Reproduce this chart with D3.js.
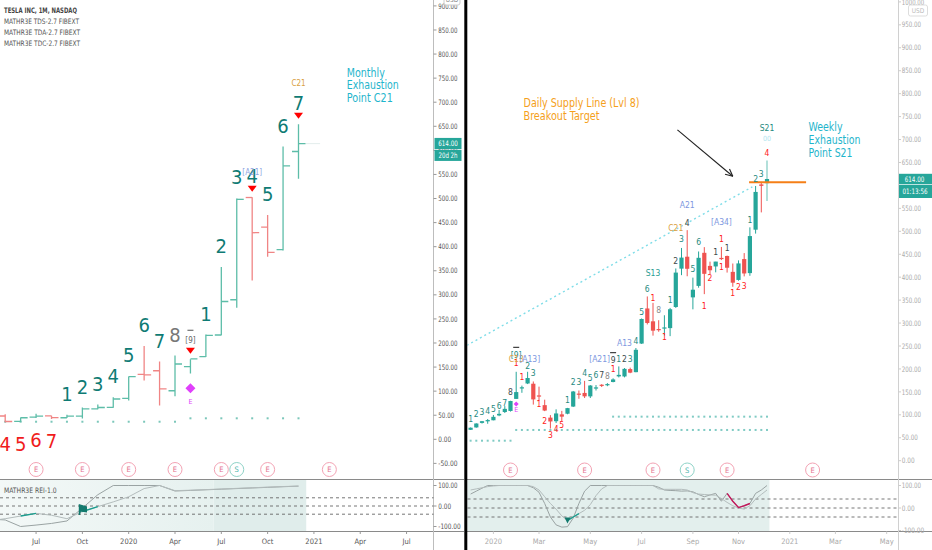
<!DOCTYPE html>
<html><head><meta charset="utf-8">
<script src="https://cdn.jsdelivr.net/npm/d3@7"></script>
<style>html,body{margin:0;padding:0;background:#fff;overflow:hidden}</style>
</head><body>
<svg id="chart" width="932" height="550"></svg>
<script>
// ================= DATA =================
// Monthly TSLA bars (left panel)
const monthlyPeriods = ["2019-04","2019-05","2019-06","2019-07","2019-08","2019-09","2019-10","2019-11","2019-12","2020-01","2020-02","2020-03","2020-04","2020-05","2020-06","2020-07","2020-08","2020-09","2020-10","2020-11","2020-12"];
const monthlyOpen  = [56.6,48.4,37.2,46.1,48.6,44.8,48.3,63.3,66.2,84.9,134.7,142.3,100.8,151.0,171.6,216.6,289.8,502.1,440.8,394.0,597.6];
const monthlyHigh  = [58.9,52.1,45.4,53.1,48.8,50.9,66.0,72.2,87.1,130.6,193.8,161.4,174.0,166.2,217.5,358.0,500.1,502.5,465.9,607.8,654.3];
const monthlyLow   = [46.9,35.4,35.8,44.2,42.3,44.2,43.0,62.2,65.5,80.4,122.3,70.1,89.3,136.6,170.8,216.2,273.0,329.9,379.1,392.3,541.2];
const monthlyClose = [47.7,37.0,44.7,48.3,45.1,48.2,63.0,66.0,83.7,130.1,133.6,104.8,156.4,167.0,216.0,286.2,498.3,429.0,388.0,567.6,614.0];
const monthlyUpCount   = [null,null,null,null,null,"1","2","3","4","5","6","7","8","9","1","2","3","4","5","6","7"];
const monthlyDownCount = [null,"4","5","6","7",null,null,null,null,null,null,null,null,null,null,null,null,null,null,null,null];
const monthlyDotLevel  = [null,36.5,36.5,36.5,36.5,36.5,36.5,36.5,36.5,36.5,36.5,36.5,36.5,43.6,43.6,43.6,43.6,43.6,43.6,43.6,43.6];
const monthlyReiA = [-64,-68,-100,-93,-85,-73,-10,55,100,100,100,100,73,76,79,82,85,88,91,94,97];
const monthlyReiB = [-72,-62,-49,-36,-45,-62,-27,-3,20,45,85,100,75,77,80,83,86,89,92,95,97];
const monthlySellArrow = ["2020-05","2020-09","2020-12"];
const leftTicksMonths = ["2019-07","2019-10","2020-01","2020-04","2020-07","2020-10","2021-01","2021-04","2021-07"];
const leftTickLabels  = ["Jul","Oct","2020","Apr","Jul","Oct","2021","Apr","Jul"];
const leftEventMonths = ["2019-07","2019-10","2020-01","2020-04","2020-07","2020-08","2020-10","2021-02"];
const leftEventKinds  = ["E","E","E","E","E","S","E","E"];

// Weekly TSLA candles (right panel)
const weeklyDates = ["2019-12-09","2019-12-16","2019-12-23","2019-12-30","2020-01-06","2020-01-13","2020-01-20","2020-01-27","2020-02-03","2020-02-10","2020-02-17","2020-02-24","2020-03-02","2020-03-09","2020-03-16","2020-03-23","2020-03-30","2020-04-06","2020-04-13","2020-04-20","2020-04-27","2020-05-04","2020-05-11","2020-05-18","2020-05-25","2020-06-01","2020-06-08","2020-06-15","2020-06-22","2020-06-29","2020-07-06","2020-07-13","2020-07-20","2020-07-27","2020-08-03","2020-08-10","2020-08-17","2020-08-24","2020-08-31","2020-09-07","2020-09-14","2020-09-21","2020-09-28","2020-10-05","2020-10-12","2020-10-19","2020-10-26","2020-11-02","2020-11-09","2020-11-16","2020-11-23","2020-11-30","2020-12-07"];
const weeklyOpen  = [67.3,72.5,82.4,85.8,88.1,98.7,106.1,108.4,134.7,160.0,168.3,167.8,142.3,121.1,93.9,86.1,101.0,102.4,118.0,146.3,147.7,140.2,159.2,165.6,166.6,171.6,183.8,183.6,199.7,193.0,255.3,331.8,303.8,287.0,289.8,289.0,335.0,418.6,444.6,356.0,381.0,453.1,424.6,423.4,442.0,446.2,411.6,394.0,439.5,408.9,503.5,602.2,604.9];
const weeklyHigh  = [72.4,81.4,86.4,90.8,99.7,110.6,119.0,130.6,193.8,163.6,193.8,172.7,161.4,133.0,99.4,112.0,108.6,115.1,152.0,153.0,174.0,164.8,164.8,166.8,169.1,179.6,205.5,201.9,202.8,245.6,310.0,358.0,344.0,306.2,317.0,333.0,419.0,463.7,502.5,399.0,456.0,465.5,433.9,433.6,465.9,447.0,429.8,436.6,452.5,508.6,598.8,607.8,654.3];
const weeklyLow   = [67.0,72.0,81.0,80.5,88.0,97.0,104.0,107.1,134.7,148.0,167.0,122.3,131.0,108.0,70.1,82.1,85.1,101.2,117.0,135.0,136.6,136.6,153.0,160.6,162.4,170.8,181.5,181.6,190.7,192.8,254.5,297.0,272.6,281.0,273.0,271.5,333.0,404.4,402.0,329.9,377.0,363.0,406.5,410.6,437.3,410.0,379.1,392.3,401.7,403.0,495.0,541.2,566.0];
const weeklyClose = [71.9,81.1,86.1,88.6,95.6,102.1,113.0,130.1,149.6,160.0,180.2,133.6,140.7,109.3,85.5,103.0,96.0,114.6,150.8,145.0,140.3,163.9,159.8,163.4,167.0,177.1,187.1,200.2,191.9,241.7,308.9,300.2,283.4,286.2,290.5,330.1,410.0,442.7,418.3,372.7,442.2,407.3,415.1,434.0,439.7,420.6,388.0,430.0,408.1,489.6,585.8,599.0,614.0];
const weeklyReiA = [62,75,88,100,100,100,100,100,100,100,100,90,70,20,-40,-75,-85,-83,-45,20,75,100,100,100,100,100,100,100,100,100,100,100,100,92,80,78,77,75,76,72,60,50,58,65,30,65,30,2,10,20,65,80,100];
const weeklyReiB = [80,85,90,95,98,100,100,100,100,100,100,95,80,50,20,-5,-35,-56,-40,-25,-10,15,55,85,100,100,100,100,100,100,100,100,100,85,83,83,83,83,80,68,62,60,58,57,42,25,10,0,-5,10,40,60,80];
// TD count labels: week index, text, price level, kind
const weekLabelIdx   = [0,1,2,3,4,5,6,7,8,8,9,10,11,12,13,14,15,16,17,18,19,20,21,22,23,24,25,25,26,27,28,29,30,31,32,33,34,35,36,37,38,39,40,41,42,43,44,44,45,46,47,48,49,50,51,52,52,52];
const weekLabelText  = ["1","2","3","4","5","6","7","8","[9]","1","1","2","3","1","2","3","4","5","1","2","3","4","5","6","7","8","9","1","1","2","3","4","5","6","1","8","1","1","2","3","4","5","6","1","2","1","1","1","1","1","2","3","1","2","3","4","00","S21"];
const weekLabelPrice = [90.2,102.4,105.5,107.7,113.3,119.2,126.4,149.7,230.4,212.3,183,206.4,191.8,123.6,87.2,56,68.4,77.8,132.3,170.9,170.9,190.5,179.6,186.8,186.8,185.3,219.5,199.2,221,221,221,260.9,324.8,373.6,354,328.5,269,350.3,435.3,483.9,518.7,417.2,476,337.2,397.6,454.2,482.6,422.8,464.3,364.9,378,381.4,524.6,614,624.9,670,702.7,725.8];
const weekLabelKind  = ["up","up","up","up","up","up","up","dark","up","down","down","up","up","down","down","down","down","down","up","up","up","up","up","up","dark","gray","dark","down","up","dark","up","up","up","up","down","gray","down","up","dark","up","dark","up","up","down","down","dark","down","down","dark","down","down","down","up","up","up","down","faint","up"];
// Fib tags: week index, text, price, kind, horizontal anchor
const weekTagIdx    = [8,8,25,27,32,36,38,44];
const weekTagText   = ["C13","[A13]","[A21]","A13","S13","C21","A21","[A34]"];
const weekTagPrice  = [221.7,221.7,221,257.2,408.5,506.5,557.3,520.9];
const weekTagKind   = ["orange","blue","blue","blue","teal","orange","blue","blue"];
const weekTagAnchor = ["startL","startR","endL","middle","middle","middle","middle","middle"];
const weekDotFrom  = [0,8,25];
const weekDotTo    = [7,52,52];
const weekDotLevel = [43.6,67,96];
const rightTickDates  = ["2020-01-06","2020-03-02","2020-05-04","2020-07-06","2020-09-07","2020-11-02","2021-01-04","2021-03-01","2021-05-03"];
const rightTickLabels = ["2020","Mar","May","Jul","Sep","Nov","2021","Mar","May"];
const rightEventDates = ["2020-01-27","2020-04-27","2020-07-20","2020-08-31","2020-10-19","2021-02-01"];
const rightEventKinds = ["E","E","E","S","E","E"];
// Drawn lines (date, price)
const trendDates  = ["2019-11-29","2020-11-19"];
const trendPrices = [246,597];
const supplyDates  = ["2020-11-15","2021-01-24"];
const supplyPrices = [607,607];
const arrowDates  = ["2020-08-19","2020-10-26"];
const arrowPrices = [721,620];
const lastPrice = 614;

// ================= SETUP =================
const parseDay = d3.timeParse("%Y-%m-%d");
const mIdx = s => { const p = s.split("-").map(Number); return (p[0]-2019)*12 + (p[1]-1); };
const svg = d3.select("#chart");
const FONT = '"Liberation Sans Narrow","DejaVu Sans Condensed","Liberation Sans","Noto Sans",sans-serif';
const TEAL = "#26a69a", RED = "#ef5350";
const COL = {up:"#1f8a80", dark:"#3d4a4a", down:"#ff2020", gray:"#8a8a8a", blue:"#7d97e0", orange:"#d9a040", teal:"#2a9d93", faint:"#b2e6ef"};

const xL  = d3.scaleLinear().domain([4,23]).range([5.2,298.5]);
const yL  = d3.scaleLinear().domain([0,900]).range([439.3,5.9]);
const yLi = d3.scaleLinear().domain([-100,100]).range([526.5,485.5]);
const xR  = d3.scaleTime().domain([parseDay("2019-12-09"), parseDay("2020-12-07")]).range([470.6,767]);
const yR  = d3.scaleLinear().domain([0,500]).range([460.7,231.3]);
const yRi = d3.scaleLinear().domain([-100,100]).range([530.5,485.5]);
const wx = i => xR(parseDay(weeklyDates[i]));

function txt(g,x,yc,s,size,color,anchor,len,weight){
  const t = g.append("text").attr("x",x).attr("y",yc+size*0.35).text(s)
    .attr("font-size",size).attr("fill",color).attr("text-anchor",anchor||"start")
    .attr("font-family",FONT);
  if(len) t.attr("textLength",len).attr("lengthAdjust","spacingAndGlyphs");
  if(weight) t.attr("font-weight",weight);
  return t;
}

const defs = svg.append("defs");
defs.append("clipPath").attr("id","clipL").append("rect").attr("x",0).attr("y",0).attr("width",433.5).attr("height",479.5);
defs.append("clipPath").attr("id","clipR").append("rect").attr("x",467.5).attr("y",0).attr("width",431).attr("height",479.5);
defs.append("clipPath").attr("id","clipLi").append("rect").attr("x",0).attr("y",480).attr("width",433.5).attr("height",51);
defs.append("clipPath").attr("id","clipRi").append("rect").attr("x",467.5).attr("y",480).attr("width",431).attr("height",51);
const grad = defs.append("linearGradient").attr("id","gL").attr("x1","0").attr("x2","1").attr("y1","0").attr("y2","0");
grad.append("stop").attr("offset","0").attr("stop-color","#f3f8f7");
grad.append("stop").attr("offset","1").attr("stop-color","#e6f1ef");

svg.append("rect").attr("width",932).attr("height",550).attr("fill","#fff");

// ---------- indicator pane shading ----------
svg.append("rect").attr("x",0).attr("y",480).attr("width",xL(17.5)).attr("height",51).attr("fill","url(#gL)");
svg.append("rect").attr("x",xL(17.5)).attr("y",480).attr("width",xL(23.5)-xL(17.5)).attr("height",51).attr("fill","#e0edeb");
svg.append("rect").attr("x",467.5).attr("y",480).attr("width",xR(parseDay("2020-12-10"))-467.5).attr("height",51).attr("fill","#e3efed");

// ---------- separators ----------
const sep = svg.append("g").attr("stroke","#8a8a8a").attr("stroke-width",1);
sep.append("line").attr("x1",0).attr("x2",464).attr("y1",479.5).attr("y2",479.5);
sep.append("line").attr("x1",0).attr("x2",464).attr("y1",531.5).attr("y2",531.5);
sep.append("line").attr("x1",467).attr("x2",932).attr("y1",479.5).attr("y2",479.5);
sep.append("line").attr("x1",467).attr("x2",932).attr("y1",531.5).attr("y2",531.5);
svg.append("line").attr("x1",433.5).attr("x2",433.5).attr("y1",0).attr("y2",550).attr("stroke","#bdbdbd");
svg.append("line").attr("x1",898.5).attr("x2",898.5).attr("y1",0).attr("y2",550).attr("stroke","#d0d0d0");

// ---------- dashed levels in indicator panes ----------
[40,0,-40].forEach(v=>{
  svg.append("line").attr("x1",0).attr("x2",433.5).attr("y1",yLi(v)).attr("y2",yLi(v))
    .attr("stroke","#666").attr("stroke-dasharray","3,3").attr("stroke-width",0.9);
  svg.append("line").attr("x1",467.5).attr("x2",898.5).attr("y1",yRi(v)).attr("y2",yRi(v))
    .attr("stroke","#666").attr("stroke-dasharray","3,3").attr("stroke-width",0.9);
});

// ================= LEFT PANEL =================
const gL = svg.append("g").attr("clip-path","url(#clipL)");
monthlyPeriods.forEach((p,i)=>{
  if(monthlyDotLevel[i]==null) return;
  gL.append("rect").attr("x",xL(mIdx(p))-1).attr("y",yL(monthlyDotLevel[i])-1).attr("width",2).attr("height",2).attr("fill","#7cc7ba");
});
// faint last-price line
gL.append("line").attr("x1",xL(23)+7).attr("x2",xL(24.4)).attr("y1",yL(lastPrice)).attr("y2",yL(lastPrice)).attr("stroke","#e3eeec").attr("stroke-width",1);
// OHLC bars
monthlyPeriods.forEach((p,i)=>{
  const x = xL(mIdx(p)), up = monthlyClose[i] >= monthlyOpen[i];
  const c = up ? "#5dbda8" : "#f08585";
  gL.append("line").attr("x1",x).attr("x2",x).attr("y1",yL(monthlyHigh[i])).attr("y2",yL(monthlyLow[i])).attr("stroke",c).attr("stroke-width",1.3);
  gL.append("line").attr("x1",x-6.5).attr("x2",x).attr("y1",yL(monthlyOpen[i])).attr("y2",yL(monthlyOpen[i])).attr("stroke",c).attr("stroke-width",1.3);
  gL.append("line").attr("x1",x).attr("x2",x+7).attr("y1",yL(monthlyClose[i])).attr("y2",yL(monthlyClose[i])).attr("stroke",c).attr("stroke-width",1.3);
});
monthlySellArrow.forEach(p=>{
  const i = monthlyPeriods.indexOf(p), x = xL(mIdx(p)), y = yL(monthlyHigh[i]) - 8.5;
  gL.append("path").attr("d",`M${x-4.5},${y-3}L${x+4.5},${y-3}L${x},${y+3}Z`).attr("fill","#f00");
});
monthlyPeriods.forEach((p,i)=>{
  const x = xL(mIdx(p));
  const u = monthlyUpCount[i];
  if(u){
    if(u==="9"){
      txt(gL,x,yL(monthlyHigh[i])-19,"[9]",8,"#666","middle");
      gL.append("line").attr("x1",x-3).attr("x2",x+3).attr("y1",yL(monthlyHigh[i])-29).attr("y2",yL(monthlyHigh[i])-29).attr("stroke","#555").attr("stroke-width",1.2);
    } else {
      txt(gL,x,yL(monthlyHigh[i])-21,u,20,u==="8"?"#777":"#0f7b74","middle");
    }
  }
  const d = monthlyDownCount[i];
  if(d) txt(gL,x,yL(monthlyLow[i])+22,d,20,"#f01c1c","middle");
});
txt(gL,xL(mIdx("2020-09")),yL(502.5)-25,"[A21]",8,"#8ea4e2","middle");
txt(gL,xL(mIdx("2020-12")),yL(654.3)-41,"C21",8,"#d9a040","middle");
{
  const x = xL(mIdx("2020-05")), y = yL(105.9);
  gL.append("path").attr("d",`M${x},${y-5}L${x+5},${y}L${x},${y+5}L${x-5},${y}Z`).attr("fill","#e040fb");
  txt(gL,x,yL(77.5),"E",7,"#e040fb","middle");
}
leftEventMonths.forEach((p,i)=>{
  const x = xL(mIdx(p)), y = 469.5, s = leftEventKinds[i]==="S";
  svg.append("circle").attr("cx",x).attr("cy",y).attr("r",7).attr("fill","#fff").attr("stroke",s?"#8fd3c7":"#f3a3b4").attr("stroke-width",1);
  txt(svg,x,y,leftEventKinds[i],7.5,s?"#4db6ac":"#e57390","middle");
});
{
  const ax = xL(26.13), ay = yL(762);
  const c = "#1fb5cc";
  txt(svg,ax,ay,"Monthly",12,c,"start",38);
  txt(svg,ax,ay+12.7,"Exhaustion",12,c,"start",52);
  txt(svg,ax,ay+25.4,"Point C21",12,c,"start",46);
}
txt(svg,4,10.7,"TESLA INC, 1M, NASDAQ",7.5,"#444","start",73,"bold");
txt(svg,4,21.7,"MATHR3E TDS-2.7 FIBEXT",7.5,"#555","start",75);
txt(svg,4,32.7,"MATHR3E TDA-2.7 FIBEXT",7.5,"#555","start",76);
txt(svg,4,43.3,"MATHR3E TDC-2.7 FIBEXT",7.5,"#555","start",76);
txt(svg,4,490.7,"MATHR3E REI-1.0",7.5,"#555","start",52.7);

{
  const g = svg.append("g").attr("clip-path","url(#clipLi)");
  const lineA = d3.line().x((d,i)=>xL(mIdx(monthlyPeriods[i]))).y(d=>yLi(d));
  g.append("path").attr("d",lineA(monthlyReiA)).attr("fill","none").attr("stroke","#9aa3a3").attr("stroke-width",1);
  g.append("path").attr("d",lineA(monthlyReiB)).attr("fill","none").attr("stroke","#b3bcbc").attr("stroke-width",1);
  const seg = (a,b)=> d3.line().x(i=>xL(mIdx(monthlyPeriods[i]))).y(i=>yLi(monthlyReiB[i]))(d3.range(a,b+1));
  g.append("path").attr("d",seg(2,3)).attr("fill","none").attr("stroke","#1b9e8f").attr("stroke-width",1.4);
  g.append("path").attr("d",seg(6,7)).attr("fill","none").attr("stroke","#1b9e8f").attr("stroke-width",1.4);
  const fx = xL(mIdx("2019-10")), fy = yLi(-19);
  g.append("path").attr("d",`M${fx-3},${fy+5}L${fx-3},${fy-5}L${fx+4},${fy-3}L${fx+4},${fy+2}L${fx-2},${fy+1}Z`).attr("fill","#137a6e").attr("stroke","#137a6e").attr("stroke-width",1.2);
}

d3.range(-50,901,50).forEach(v=>{
  const s = v.toFixed(2);
  svg.append("line").attr("x1",433.5).attr("x2",436.5).attr("y1",yL(v)).attr("y2",yL(v)).attr("stroke","#999");
  txt(svg,438.3,yL(v),s,7.5,"#555","start",s.length*3.2);
});
[100,0,-100].forEach(v=>{
  const s = v.toFixed(2);
  svg.append("line").attr("x1",433.5).attr("x2",436.5).attr("y1",yLi(v)).attr("y2",yLi(v)).attr("stroke","#999");
  txt(svg,438.3,yLi(v),s,7.5,"#555","start",s.length*3.2);
});
leftTicksMonths.forEach((p,i)=>{
  const x = xL(mIdx(p));
  svg.append("line").attr("x1",x).attr("x2",x).attr("y1",531.5).attr("y2",534).attr("stroke","#999");
  txt(svg,x,541.7,leftTickLabels[i],7.5,"#555","middle");
});
{
  const y = yL(lastPrice);
  svg.append("rect").attr("x",434.5).attr("y",y-5.7).attr("width",27).attr("height",11.2).attr("fill",TEAL);
  txt(svg,448,y,lastPrice.toFixed(2),7.5,"#fff","middle",19.5);
  svg.append("rect").attr("x",434.5).attr("y",y+6.3).attr("width",27).attr("height",11).attr("fill",TEAL);
  txt(svg,448,y+11.8,"20d 2h",7.5,"#fff","middle",19);
  svg.append("rect").attr("x",444).attr("y",-6).attr("width",16).attr("height",11).attr("fill","#fff").attr("stroke","#ccc").attr("rx",2);
  txt(svg,452,-0.5,"USD",6.5,"#888","middle");
}

// ================= RIGHT PANEL =================
const gR = svg.append("g").attr("clip-path","url(#clipR)");
gR.append("line").attr("x1",xR(parseDay(trendDates[0]))).attr("y1",yR(trendPrices[0]))
  .attr("x2",xR(parseDay(trendDates[1]))).attr("y2",yR(trendPrices[1]))
  .attr("stroke","#7fdde8").attr("stroke-width",1.4).attr("stroke-dasharray","2,3");
weekDotFrom.forEach((f,k)=>{
  d3.range(f,weekDotTo[k]+1).forEach(i=>{
    gR.append("rect").attr("x",wx(i)-1).attr("y",yR(weekDotLevel[k])-1).attr("width",2).attr("height",2).attr("fill","#80cbc4");
  });
});
weeklyDates.forEach((d,i)=>{
  const x = wx(i), up = weeklyClose[i] >= weeklyOpen[i], c = up ? TEAL : RED;
  const last = i === weeklyDates.length-1;
  gR.append("line").attr("x1",x).attr("x2",x).attr("y1",yR(weeklyHigh[i])).attr("y2",yR(weeklyLow[i]))
    .attr("stroke",last ? "#9fd8d1" : c).attr("stroke-width",last ? 1.6 : 1);
  const y0 = yR(Math.max(weeklyOpen[i],weeklyClose[i])), y1 = yR(Math.min(weeklyOpen[i],weeklyClose[i]));
  gR.append("rect").attr("x",x-2.1).attr("y",y0).attr("width",4.2).attr("height",Math.max(1.2,y1-y0)).attr("fill",c);
});
gR.append("line").attr("x1",xR(parseDay(supplyDates[0]))).attr("x2",xR(parseDay(supplyDates[1])))
  .attr("y1",yR(supplyPrices[0])).attr("y2",yR(supplyPrices[1])).attr("stroke","#f57f17").attr("stroke-width",2);
{
  const x = wx(8), y = yR(123.6);
  gR.append("path").attr("d",`M${x},${y-2.5}L${x+2.5},${y}L${x},${y+2.5}L${x-2.5},${y}Z`).attr("fill","#e040fb");
  txt(gR,x,yR(110.5),"E",7,"#e040fb","middle");
}
weekLabelIdx.forEach((wi,k)=>{
  txt(gR,wx(wi),yR(weekLabelPrice[k]),weekLabelText[k],weekLabelKind[k]==="faint"?7:8.5,COL[weekLabelKind[k]],"middle");
});
[[8,247],[25,235.4]].forEach(([wi,p])=>{
  gR.append("line").attr("x1",wx(wi)-3).attr("x2",wx(wi)+3).attr("y1",yR(p)).attr("y2",yR(p)).attr("stroke","#444").attr("stroke-width",1.2);
});
weekTagIdx.forEach((wi,k)=>{
  const a = weekTagAnchor[k];
  let x = wx(wi), anchor = "middle";
  if(a==="startL"){ x = x-7.5; anchor="start"; }
  if(a==="startR"){ x = x+3; anchor="start"; }
  if(a==="endL"){ x = x-3; anchor="end"; }
  txt(gR,x,yR(weekTagPrice[k]),weekTagText[k],8.5,COL[weekTagKind[k]],anchor);
});
{
  const x1 = xR(parseDay(arrowDates[0])), y1 = yR(arrowPrices[0]);
  const x2 = xR(parseDay(arrowDates[1])), y2 = yR(arrowPrices[1]);
  const ang = Math.atan2(y2-y1,x2-x1), L = 8;
  gR.append("line").attr("x1",x1).attr("y1",y1).attr("x2",x2).attr("y2",y2).attr("stroke","#222").attr("stroke-width",1.1);
  [0.45,-0.45].forEach(da=>{
    gR.append("line").attr("x1",x2).attr("y1",y2)
      .attr("x2",x2-L*Math.cos(ang+da)).attr("y2",y2-L*Math.sin(ang+da)).attr("stroke","#222").attr("stroke-width",1.1);
  });
}
{
  const c = "#1fb5cc";
  const ax = xR(parseDay("2021-01-27")), ay = yR(726.7);
  txt(svg,ax,ay,"Weekly",12,c,"start",34);
  txt(svg,ax,ay+12.7,"Exhaustion",12,c,"start",52);
  txt(svg,ax,ay+25.4,"Point S21",12,c,"start",44);
  const o = "#f5a01a";
  const bx = xR(parseDay("2020-02-12")), by = yR(779);
  txt(svg,bx,by,"Daily Supply Line (Lvl 8)",12,o,"start",116);
  txt(svg,bx,by+12.7,"Breakout Target",12,o,"start",76);
}
rightEventDates.forEach((d,i)=>{
  const x = xR(parseDay(d)), y = 470, s = rightEventKinds[i]==="S";
  svg.append("circle").attr("cx",x).attr("cy",y).attr("r",7).attr("fill","#fff").attr("stroke",s?"#8fd3c7":"#f3a3b4").attr("stroke-width",1);
  txt(svg,x,y,rightEventKinds[i],7.5,s?"#4db6ac":"#e57390","middle");
});
{
  const g = svg.append("g").attr("clip-path","url(#clipRi)");
  const ln = d3.line().x((d,i)=>wx(i)).y(d=>yRi(d));
  g.append("path").attr("d",ln(weeklyReiA)).attr("fill","none").attr("stroke","#9aa3a3").attr("stroke-width",1);
  g.append("path").attr("d",ln(weeklyReiB)).attr("fill","none").attr("stroke","#b3bcbc").attr("stroke-width",1);
  const segA = (a,b)=> d3.line().x(i=>wx(i)).y(i=>yRi(weeklyReiA[i]))(d3.range(a,b+1));
  const segB = (a,b)=> d3.line().x(i=>wx(i)).y(i=>yRi(weeklyReiB[i]))(d3.range(a,b+1));
  g.append("path").attr("d",segA(45,49)).attr("fill","none").attr("stroke","#c2185b").attr("stroke-width",1.4);
  g.append("path").attr("d",segB(17,19)).attr("fill","none").attr("stroke","#1b9e8f").attr("stroke-width",1.4);
  const fx = wx(17), fy = yRi(-56);
  g.append("path").attr("d",`M${fx-3},${fy-3}L${fx+3},${fy-3}L${fx},${fy+3}Z`).attr("fill","#137a6e");
}
d3.range(0,1001,50).forEach(v=>{
  if(v===600) return;
  const s = v.toFixed(2);
  svg.append("line").attr("x1",898.5).attr("x2",901).attr("y1",yR(v)).attr("y2",yR(v)).attr("stroke","#ccc");
  txt(svg,901.8,yR(v),s,7.5,"#aaa","start",s.length*3.2);
});
[100,0,-100].forEach(v=>{
  const s = v.toFixed(2);
  svg.append("line").attr("x1",898.5).attr("x2",901).attr("y1",yRi(v)).attr("y2",yRi(v)).attr("stroke","#ccc");
  txt(svg,901.8,yRi(v),s,7.5,"#aaa","start",s.length*3.2);
});
rightTickDates.forEach((d,i)=>{
  const x = xR(parseDay(d));
  svg.append("line").attr("x1",x).attr("x2",x).attr("y1",531.5).attr("y2",534).attr("stroke","#ccc");
  txt(svg,x,541.7,rightTickLabels[i],7.5,"#aaa","middle");
});
{
  const y = yR(lastPrice);
  svg.append("rect").attr("x",899).attr("y",y-5.2).attr("width",33).attr("height",10.5).attr("fill",TEAL);
  txt(svg,914.5,y,lastPrice.toFixed(2),7.5,"#fff","middle",19.5);
  svg.append("rect").attr("x",899).attr("y",y+6).attr("width",33).attr("height",13).attr("fill",TEAL);
  txt(svg,915,y+12.5,"01:13:56",7.5,"#fff","middle",25);
  svg.append("rect").attr("x",908.5).attr("y",5).attr("width",19).attr("height",11).attr("fill","#fff").attr("stroke","#ddd").attr("rx",2);
  txt(svg,918,10.5,"USD",6.5,"#bbb","middle");
}

svg.append("rect").attr("x",464.3).attr("y",0).attr("width",3).attr("height",550).attr("fill","#000");
</script>
</body></html>
